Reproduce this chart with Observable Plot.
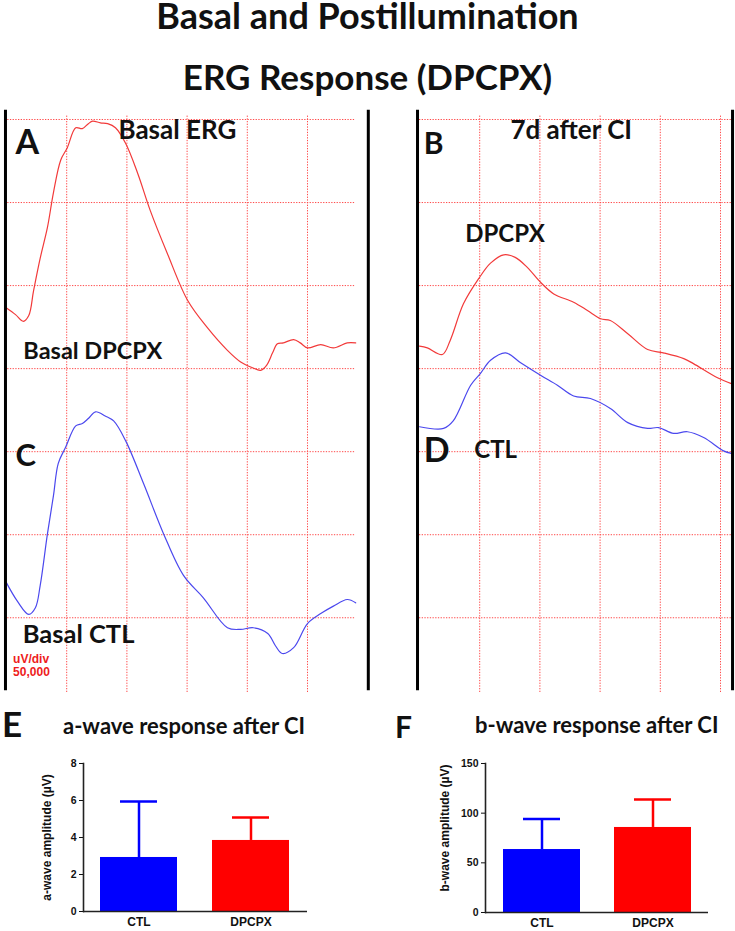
<!DOCTYPE html>
<html><head><meta charset="utf-8">
<script src="https://cdn.jsdelivr.net/npm/d3@7"></script>
<script src="https://cdn.jsdelivr.net/npm/@observablehq/plot@0.6"></script>
<style>
body{margin:0;background:#fff;}
#root{position:relative;width:735px;height:931px;overflow:hidden;background:#fff;font-family:Lato,"Open Sans",sans-serif;color:#111;}
.title{position:absolute;left:0;width:735px;text-align:center;font-weight:700;white-space:nowrap;}
.ptitle{position:absolute;font-weight:700;white-space:nowrap;}
</style></head><body><div id="root"></div><script>
// ---------- ERG traces: x in time divisions, y in amplitude divisions (50 µV/div) ----------
const basalDpcpxX = [0,0.15,0.28,0.37,0.45,0.56,0.68,0.78,0.90,1.01,1.15,1.26,1.36,1.43,1.56,1.68,1.81,1.98,2.18,2.39,2.67,3.01,3.34,3.67,3.89,4.09,4.22,4.32,4.42,4.50,4.60,4.77,4.88,5.00,5.22,5.43,5.66,5.80];
const basalDpcpxY = [4.73,4.65,4.57,4.64,4.94,5.33,5.70,6.12,6.51,6.66,6.90,6.89,6.95,6.98,6.96,6.95,6.90,6.71,6.35,5.90,5.39,4.82,4.49,4.22,4.08,4.01,3.98,4.04,4.19,4.30,4.31,4.35,4.31,4.25,4.29,4.25,4.31,4.31];
const basalCtlX = [0,0.18,0.37,0.48,0.56,0.68,0.78,0.86,0.98,1.15,1.26,1.36,1.48,1.64,1.78,1.98,2.28,2.61,2.94,3.27,3.67,3.89,4.10,4.34,4.47,4.58,4.77,5.00,5.22,5.43,5.66,5.80];
const basalCtlY = [1.42,1.20,1.04,1.12,1.39,2.01,2.47,2.86,3.05,3.31,3.34,3.40,3.48,3.43,3.37,3.13,2.61,2.01,1.51,1.24,0.88,0.86,0.88,0.81,0.66,0.57,0.64,0.93,1.05,1.14,1.22,1.18];
const dpcpx7dX = [0,0.13,0.38,0.51,0.73,0.98,1.18,1.40,1.59,1.79,2.01,2.23,2.56,2.79,3.01,3.17,3.46,3.79,4.05,4.39,4.55,4.95,5.18];
const dpcpx7dY = [4.27,4.25,4.17,4.34,4.78,5.08,5.27,5.37,5.34,5.22,5.04,4.90,4.80,4.70,4.60,4.58,4.42,4.23,4.19,4.12,4.06,3.89,3.82];
const ctl7dX = [0,0.40,0.56,0.85,1.01,1.18,1.43,1.68,2.01,2.29,2.56,2.84,3.17,3.46,3.79,3.97,4.22,4.45,4.72,5.05,5.18];
const ctl7dY = [3.30,3.28,3.37,3.80,3.94,4.10,4.19,4.07,3.92,3.80,3.67,3.64,3.52,3.35,3.28,3.29,3.22,3.24,3.17,3.01,2.98];
const gridLevels = [1,2,3,4,5,6,7];
const gridDivs = [1,2,3,4,5];

// ---------- Bar charts ----------
const groups = ["CTL","DPCPX"];
const groupColors = ["#0000ff","#ff0000"];
const aWaveMean = [2.92, 3.84];
const aWaveSem = [3.02, 1.24];
const bWaveMean = [63.4, 85.6];
const bWaveSem = [30.8, 28.2];
const aTicks = [0,2,4,6,8];
const bTicks = [0,50,100,150];

// ---------- layout ----------
const root = document.getElementById("root");
function addDiv(cls, text, css){const d=document.createElement("div");d.className=cls;d.textContent=text;Object.assign(d.style,css);root.appendChild(d);return d;}
addDiv("title","Basal and Postillumination",{top:"-3px",fontSize:"36px",lineHeight:"36px"});
addDiv("title","ERG Response (DPCPX)",{top:"59px",fontSize:"35px",lineHeight:"35px"});

const RED="#f23a3a", BLUE="#4b48ee", GRID="#ff4a4a";
const FONT="Lato, 'Open Sans', sans-serif";
const ARIAL="'Liberation Sans', Arial, sans-serif";

function ergPanel(o){
  const marks = [
    Plot.ruleY(gridLevels,{x1:o.hx1,x2:o.hx2,stroke:GRID,strokeWidth:1,strokeDasharray:"1.3,1.4"}),
    Plot.ruleX(gridDivs,{y1:0.1,y2:7.05,stroke:GRID,strokeWidth:1,strokeDasharray:"1.3,1.4"}),
  ];
  for(const t of o.traces) marks.push(Plot.line(t.X,{x:(d,i)=>t.X[i],y:(d,i)=>t.Y[i],stroke:t.color,strokeWidth:1.2,curve:"catmull-rom"}));
  marks.push(Plot.ruleX(o.borders,{y1:0.12,y2:7.11,stroke:"#000",strokeWidth:3}));
  for(const l of o.labels) marks.push(Plot.text([l.text],{x:l.x,y:l.y,text:d=>d,textAnchor:"start",lineAnchor:"bottom",lineHeight:l.lh||1,fontSize:l.size,fontWeight:"bold",fill:l.color||"#111",fontFamily:l.font||FONT}));
  const svg = Plot.plot({
    width:o.width,height:587,marginTop:14,marginBottom:0,marginLeft:o.marginLeft,marginRight:o.marginRight,
    x:{domain:[0,o.xMax],axis:null},y:{domain:[0.1,7],axis:null},
    style:{background:"transparent",overflow:"visible"},
    marks
  });
  svg.style.position="absolute";svg.style.left=o.left+"px";svg.style.top="105px";
  root.appendChild(svg);
}

ergPanel({left:0,width:372,marginLeft:6,marginRight:4.8,xMax:6,hx1:0.02,hx2:5.8,borders:[-0.017,6.01],
  traces:[{X:basalDpcpxX,Y:basalDpcpxY,color:RED},{X:basalCtlX,Y:basalCtlY,color:BLUE}],
  labels:[
    {text:"A",x:0.15,y:6.59,size:34},
    {text:"Basal ERG",x:1.86,y:6.77,size:26},
    {text:"Basal DPCPX",x:0.28,y:4.12,size:23.5},
    {text:"C",x:0.15,y:2.83,size:31},
    {text:"Basal CTL",x:0.27,y:0.70,size:25.5},
    {text:"uV/div\n50,000",x:0.11,y:0.295,size:12,lh:1.15,color:"#ee1c1c",font:ARIAL}
  ]});
ergPanel({left:400,width:335,marginLeft:19,marginRight:15,xMax:5,hx1:0,hx2:5.18,borders:[-0.033,5.2],
  traces:[{X:dpcpx7dX,Y:dpcpx7dY,color:RED},{X:ctl7dX,Y:ctl7dY,color:BLUE}],
  labels:[
    {text:"B",x:0.07,y:6.59,size:30},
    {text:"7d after CI",x:1.51,y:6.76,size:26},
    {text:"DPCPX",x:0.76,y:5.52,size:24},
    {text:"D",x:0.07,y:2.87,size:34},
    {text:"CTL",x:0.91,y:2.92,size:24}
  ]});

// panel titles
addDiv("ptitle","E",{left:"2px",top:"706px",fontSize:"35px",lineHeight:"35px"});
addDiv("ptitle","a-wave response after CI",{left:"63px",top:"715px",fontSize:"22px",lineHeight:"22px"});
addDiv("ptitle","F",{left:"395px",top:"711px",fontSize:"30px",lineHeight:"30px"});
addDiv("ptitle","b-wave response after CI",{left:"475px",top:"714px",fontSize:"22px",lineHeight:"22px"});

function barPanel(o){
  const data = groups.map((g,i)=>({group:g,mean:o.mean[i],sem:o.sem[i],color:groupColors[i]}));
  const svg = Plot.plot({
    width:o.width,height:181,marginTop:13,marginBottom:o.marginBottom,marginLeft:o.marginLeft,marginRight:o.marginRight,
    style:{background:"transparent",fontFamily:ARIAL,fontWeight:"bold",fontSize:"10.5px",color:"#111",overflow:"visible"},
    x:{domain:groups,paddingInner:0.31,paddingOuter:0.155,label:null},
    y:{domain:o.domain,ticks:o.ticks,label:null},
    marks:[
      Plot.barY(data,{x:"group",y:"mean",fill:d=>d.color}),
      Plot.ruleX(data,{x:"group",y1:"mean",y2:d=>d.mean+d.sem,stroke:d=>d.color,strokeWidth:2.5}),
      Plot.tickY(data,{x:"group",y:d=>d.mean+d.sem,stroke:d=>d.color,strokeWidth:2.5,insetLeft:20,insetRight:20}),
      Plot.axisY({ticks:o.ticks,tickSize:4,tickPadding:3,tickFormat:d=>String(d),label:null,fontSize:10.5}),
      Plot.text([o.label],{text:d=>d,frameAnchor:"left",rotate:-90,textAnchor:"middle",dx:-o.labelOffset,dy:o.labelDy,fontSize:12,fontWeight:"bold",fill:"#111"}),
      Plot.axisX({tickSize:0,tickPadding:6,label:null,fontSize:12}),
      Plot.frame({anchor:"left",stroke:"#222",strokeWidth:1.6}),
      Plot.ruleY([o.domain[0]],{stroke:"#222",strokeWidth:1.6})
    ]
  });
  svg.style.position="absolute";svg.style.left=o.left+"px";svg.style.top="750px";
  root.appendChild(svg);
}
barPanel({left:0,width:370,marginLeft:83,marginRight:63,marginBottom:20,mean:aWaveMean,sem:aWaveSem,domain:[0,8],ticks:aTicks,label:"a-wave amplitude (µV)",labelOffset:36,labelDy:0});
barPanel({left:370,width:365,marginLeft:115,marginRight:27,marginBottom:19,mean:bWaveMean,sem:bWaveSem,domain:[0,150],ticks:bTicks,label:"b-wave amplitude (µV)",labelOffset:40,labelDy:-10});
</script></body></html>
